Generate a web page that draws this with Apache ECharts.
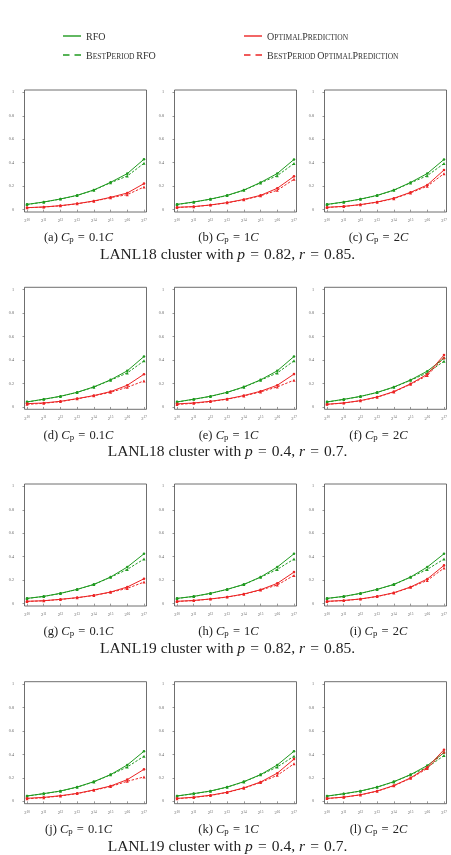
<!DOCTYPE html>
<html>
<head>
<meta charset="utf-8">
<script src="https://cdn.jsdelivr.net/npm/echarts@6/dist/echarts.min.js"></script>
<style>html,body{margin:0;padding:0;background:#fff}#c{width:451px;height:855px}</style>
</head>
<body>
<div id="c"></div>
<script>
// ---------- data ----------
const exponents = [10, 11, 12, 13, 14, 15, 16, 17];
const yTicks = [0, 0.2, 0.4, 0.6, 0.8, 1];
const seriesNames = ['RFO', 'BestPeriod RFO', 'OptimalPrediction', 'BestPeriod OptimalPrediction'];
const panelLetters = ['a','b','c','d','e','f','g','h','i','j','k','l'];
const cpValues = ['0.1', '1', '2', '0.1', '1', '2', '0.1', '1', '2', '0.1', '1', '2'];
const rowClusters = ['LANL18', 'LANL18', 'LANL19', 'LANL19'];
const rowP = ['0.82', '0.4', '0.82', '0.4'];
const rowR = ['0.85', '0.7', '0.85', '0.7'];

// RFO (solid green) / BestPeriod RFO (dashed green)
const rfo_a = [0.045,0.065,0.091,0.122,0.168,0.233,0.307,0.430];
const rfoBest_a = [0.044,0.064,0.090,0.121,0.166,0.229,0.287,0.395];
const rfo_b = [0.045,0.065,0.090,0.122,0.167,0.232,0.308,0.428];
const rfoBest_b = [0.044,0.064,0.089,0.120,0.165,0.228,0.290,0.393];
const rfo_c = [0.045,0.065,0.090,0.122,0.167,0.232,0.308,0.428];
const rfoBest_c = [0.044,0.064,0.089,0.120,0.165,0.228,0.290,0.393];
const rfo_d = [0.043,0.066,0.091,0.125,0.171,0.231,0.308,0.430];
const rfoBest_d = [0.042,0.065,0.090,0.124,0.169,0.228,0.290,0.393];
const rfo_e = [0.043,0.066,0.091,0.125,0.171,0.231,0.308,0.430];
const rfoBest_e = [0.042,0.065,0.090,0.124,0.169,0.228,0.290,0.393];
const rfo_f = [0.043,0.065,0.090,0.124,0.170,0.230,0.305,0.415];
const rfoBest_f = [0.042,0.064,0.089,0.123,0.168,0.227,0.290,0.390];
const rfo_g = [0.045,0.062,0.088,0.122,0.164,0.227,0.312,0.425];
const rfoBest_g = [0.044,0.061,0.087,0.121,0.163,0.225,0.292,0.380];
const rfo_h = [0.045,0.062,0.088,0.122,0.164,0.227,0.312,0.425];
const rfoBest_h = [0.044,0.061,0.087,0.121,0.163,0.225,0.292,0.380];
const rfo_i = [0.045,0.062,0.088,0.122,0.164,0.227,0.312,0.425];
const rfoBest_i = [0.044,0.061,0.087,0.121,0.163,0.225,0.292,0.380];
const rfo_j = [0.046,0.066,0.088,0.122,0.168,0.228,0.310,0.427];
const rfoBest_j = [0.045,0.065,0.087,0.121,0.166,0.226,0.293,0.385];
const rfo_k = [0.046,0.066,0.088,0.122,0.168,0.228,0.310,0.427];
const rfoBest_k = [0.045,0.065,0.087,0.121,0.166,0.226,0.293,0.385];
const rfo_l = [0.045,0.065,0.088,0.122,0.168,0.228,0.305,0.415];
const rfoBest_l = [0.044,0.064,0.087,0.121,0.166,0.226,0.290,0.390];

// OptimalPrediction (solid red) / BestPeriod OptimalPrediction (dashed red)
const opt_a = [0.017,0.023,0.034,0.051,0.074,0.105,0.142,0.222];
const optBest_a = [0.016,0.022,0.033,0.050,0.072,0.102,0.128,0.193];
const opt_b = [0.020,0.026,0.040,0.060,0.087,0.122,0.182,0.284];
const optBest_b = [0.019,0.025,0.039,0.058,0.084,0.118,0.165,0.259];
const opt_c = [0.020,0.028,0.043,0.065,0.097,0.148,0.210,0.338];
const optBest_c = [0.019,0.027,0.042,0.063,0.094,0.143,0.200,0.307];
const opt_d = [0.028,0.034,0.048,0.071,0.097,0.131,0.185,0.279];
const optBest_d = [0.022,0.031,0.046,0.069,0.095,0.125,0.168,0.222];
const opt_e = [0.026,0.034,0.048,0.068,0.097,0.134,0.185,0.280];
const optBest_e = [0.021,0.031,0.046,0.066,0.094,0.128,0.171,0.228];
const opt_f = [0.023,0.034,0.054,0.085,0.131,0.197,0.279,0.442];
const optBest_f = [0.022,0.033,0.053,0.083,0.128,0.193,0.268,0.420];
const opt_g = [0.020,0.025,0.037,0.051,0.071,0.099,0.142,0.212];
const optBest_g = [0.019,0.024,0.036,0.050,0.070,0.097,0.130,0.184];
const opt_h = [0.020,0.027,0.040,0.057,0.082,0.119,0.173,0.269];
const optBest_h = [0.019,0.026,0.039,0.056,0.080,0.116,0.159,0.241];
const opt_i = [0.020,0.027,0.040,0.062,0.093,0.142,0.210,0.326];
const optBest_i = [0.019,0.026,0.039,0.061,0.091,0.139,0.198,0.303];
const opt_j = [0.026,0.034,0.048,0.068,0.097,0.131,0.185,0.273];
const optBest_j = [0.022,0.031,0.046,0.066,0.095,0.126,0.171,0.208];
const opt_k = [0.025,0.035,0.052,0.078,0.115,0.165,0.240,0.360];
const optBest_k = [0.023,0.033,0.050,0.076,0.112,0.160,0.222,0.320];
const opt_l = [0.025,0.036,0.056,0.088,0.135,0.200,0.290,0.440];
const optBest_l = [0.024,0.035,0.055,0.086,0.132,0.196,0.280,0.420];

const panels = [
  [rfo_a, rfoBest_a, opt_a, optBest_a], [rfo_b, rfoBest_b, opt_b, optBest_b], [rfo_c, rfoBest_c, opt_c, optBest_c],
  [rfo_d, rfoBest_d, opt_d, optBest_d], [rfo_e, rfoBest_e, opt_e, optBest_e], [rfo_f, rfoBest_f, opt_f, optBest_f],
  [rfo_g, rfoBest_g, opt_g, optBest_g], [rfo_h, rfoBest_h, opt_h, optBest_h], [rfo_i, rfoBest_i, opt_i, optBest_i],
  [rfo_j, rfoBest_j, opt_j, optBest_j], [rfo_k, rfoBest_k, opt_k, optBest_k], [rfo_l, rfoBest_l, opt_l, optBest_l]
];

// ---------- layout / style ----------
const SERIF = '"Liberation Serif", "DejaVu Serif", serif';
const GREEN = '#1f9a1f';
const RED = '#ec2424';
const colLefts = [24.5, 174.5, 324.5];
const rowTops = [90, 287.3, 484, 681.7];
const W = 122, H = 122;
const SP = '\u2004';

function smallCaps(str) {
  let out = '', cur = null, buf = '';
  const flush = () => { if (buf) out += '{' + cur + '|' + buf + '}'; buf = ''; };
  for (const ch of str) {
    let st, c = ch;
    if (ch === ' ') { st = cur || 'b'; }
    else if (ch >= 'a' && ch <= 'z') { st = 's'; c = ch.toUpperCase(); }
    else st = 'b';
    if (st !== cur) { flush(); cur = st; }
    buf += c;
  }
  flush();
  return out;
}

const grids = [], xAxes = [], yAxes = [], series = [], graphics = [];
const styleKinds = [
  { color: GREEN, dashed: false, symbol: 'circle' },
  { color: GREEN, dashed: true, symbol: 'triangle' },
  { color: RED, dashed: false, symbol: 'circle' },
  { color: RED, dashed: true, symbol: 'triangle' }
];

panels.forEach((sets, p) => {
  const r = Math.floor(p / 3), c = p % 3;
  grids.push({ left: colLefts[c], top: rowTops[r], width: W, height: H, show: true,
    borderColor: '#4a4a4a', borderWidth: 0.8, backgroundColor: 'transparent' });
  xAxes.push({
    type: 'value', gridIndex: p, min: 9.85, max: 17.15,
    axisLine: { show: false },
    axisTick: { show: true, length: 2, lineStyle: { color: '#555', width: 0.6 }, customValues: exponents },
    splitLine: { show: false },
    axisLabel: {
      customValues: exponents, margin: 6, color: '#666',
      formatter: v => '{b|2}{s|' + v + '}',
      rich: {
        b: { fontSize: 4.6, fontFamily: SERIF, color: '#666', lineHeight: 6, verticalAlign: 'middle' },
        s: { fontSize: 3.3, fontFamily: SERIF, color: '#666', lineHeight: 6, padding: [0, 0, 2, 0], verticalAlign: 'middle' }
      }
    }
  });
  yAxes.push({
    type: 'value', gridIndex: p, min: -0.02, max: 1.02,
    axisLine: { show: false },
    axisTick: { show: true, length: 2, lineStyle: { color: '#555', width: 0.6 }, customValues: yTicks },
    splitLine: { show: false },
    axisLabel: { customValues: yTicks, margin: 10.5, fontSize: 4.2, fontFamily: SERIF, color: '#666' }
  });
  sets.forEach((arr, k) => {
    const st = styleKinds[k];
    series.push({
      type: 'line', name: seriesNames[k], xAxisIndex: p, yAxisIndex: p,
      data: exponents.map((e, i) => [e, arr[i]]),
      color: st.color,
      symbol: st.symbol, symbolSize: st.dashed ? 3 : 2.6,
      lineStyle: { width: 1, type: st.dashed ? [2.5, 1.6] : 'solid', color: st.color },
      itemStyle: { color: st.color },
      animation: false, silent: true, z: 2 + k
    });
  });
  // subcaption
  graphics.push({
    type: 'text', x: 78.5 + 150 * c, y: rowTops[r] + 148,
    style: {
      text: '{n|(' + panelLetters[p] + ') }{i|C}{sub|p}{n|' + SP + '=' + SP + cpValues[p] + '}{i|C}',
      textAlign: 'center', textVerticalAlign: 'middle',
      rich: {
        n: { fontSize: 12.5, fontFamily: SERIF, fill: '#222', lineHeight: 16, verticalAlign: 'middle' },
        i: { fontSize: 12.5, fontFamily: SERIF, fontStyle: 'italic', fill: '#222', lineHeight: 16, verticalAlign: 'middle' },
        sub: { fontSize: 8.8, fontFamily: SERIF, fill: '#222', lineHeight: 16, padding: [4, 0, 0, 0], verticalAlign: 'middle' }
      }
    }
  });
});

rowClusters.forEach((cl, r) => {
  graphics.push({
    type: 'text', x: 227.5, y: rowTops[r] + 165,
    style: {
      text: '{n|' + cl + ' cluster with }{i|p}{n|' + SP + '=' + SP + rowP[r] + ', }{i|r}{n|' + SP + '=' + SP + rowR[r] + '.}',
      textAlign: 'center', textVerticalAlign: 'middle',
      rich: {
        n: { fontSize: 15.5, fontFamily: SERIF, fill: '#222', verticalAlign: 'middle' },
        i: { fontSize: 15.5, fontFamily: SERIF, fontStyle: 'italic', fill: '#222', verticalAlign: 'middle' }
      }
    }
  });
});

const legendRich = {
  b: { fontSize: 10, fontFamily: SERIF, color: '#333', verticalAlign: 'bottom', lineHeight: 12 },
  s: { fontSize: 7.5, fontFamily: SERIF, color: '#333', verticalAlign: 'bottom', lineHeight: 12 }
};
const solidIcon = 'path://M0,0h18v1h-18z';
const dashIcon = 'path://M0,0h6.5v1h-6.5zM11.5,0h6.5v1h-6.5z';
const legendBase = {
  orient: 'vertical', top: 30, padding: 0, itemWidth: 18, itemHeight: 1.4, itemGap: 7,
  selectedMode: false, formatter: name => smallCaps(name),
  textStyle: { rich: legendRich, lineHeight: 12 }, symbolKeepAspect: false
};

const option = {
  backgroundColor: '#fff',
  animation: false,
  legend: [
    Object.assign({}, legendBase, { left: 63, data: [{ name: 'RFO', icon: solidIcon }, { name: 'BestPeriod RFO', icon: dashIcon }] }),
    Object.assign({}, legendBase, { left: 244, data: [{ name: 'OptimalPrediction', icon: solidIcon }, { name: 'BestPeriod OptimalPrediction', icon: dashIcon }] })
  ],
  grid: grids, xAxis: xAxes, yAxis: yAxes, series: series, graphic: graphics
};

const chart = echarts.init(document.getElementById('c'), null, { renderer: 'canvas' });
chart.setOption(option);
</script>
</body>
</html>
